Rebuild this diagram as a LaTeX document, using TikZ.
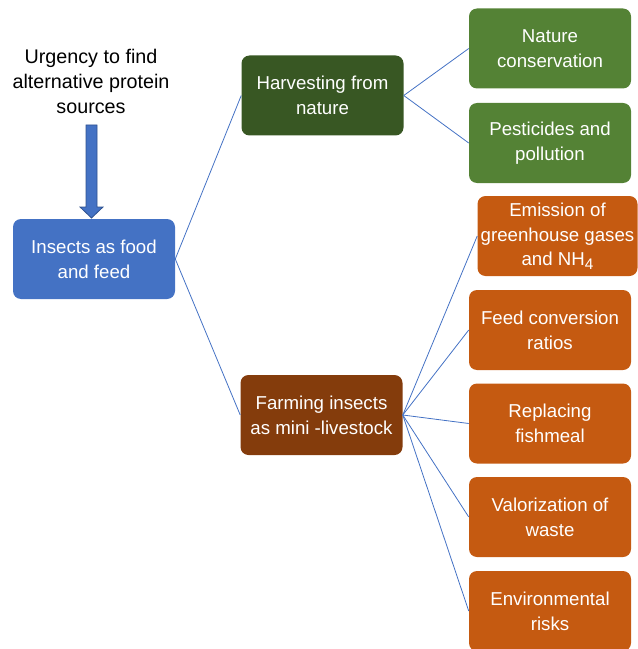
\documentclass[tikz,border=0pt]{standalone}
\usepackage{fontspec}
\setmainfont{Liberation Sans}
\usetikzlibrary{arrows.meta}
\definecolor{offblue}{HTML}{4472C4}
\definecolor{offbluedark}{HTML}{2F528F}
\definecolor{darkgreen}{HTML}{385723}
\definecolor{leafgreen}{HTML}{548235}
\definecolor{rust}{HTML}{843C0C}
\definecolor{burntorange}{HTML}{C55A11}

\begin{document}
\begin{tikzpicture}[x=0.75pt, y=-0.75pt,
    box/.style={rounded corners=6pt, minimum width=121.5pt, minimum height=60pt,
        inner sep=0pt, align=center, text=white, font=\fontsize{14}{18.5}\selectfont},
    link/.style={draw=offblue, line width=0.6pt}]
            \useasboundingbox (0,0) rectangle (638,649);
            \node[align=center, font=\fontsize{14.8}{18.75}\selectfont] (urgency) at (91,81)
                {Urgency to find\\alternative protein\\sources};
            \node[box, fill=offblue] (insects) at (94,259) {Insects as food\\and feed};
            \node[box, fill=darkgreen] (harvest) at (322.5,95.5) {Harvesting from\\nature};
            \node[box, fill=rust] (farming) at (321.5,415) {Farming insects\\as mini -livestock};
            \node[box, fill=leafgreen] (nature) at (550,48.5) {Nature\\conservation};
            \node[box, fill=leafgreen] (pesticides) at (550,143) {Pesticides and\\pollution};
            \node[box, fill=burntorange, minimum width=120pt] (emission) at (557.5,236)
                {Emission of\\greenhouse gases\\and NH\raisebox{-0.35ex}{\fontsize{11.5}{11.5}\selectfont 4}};
            \node[box, fill=burntorange] (feedconv) at (550,330) {Feed conversion\\ratios};
            \node[box, fill=burntorange] (fishmeal) at (550,423.5) {Replacing\\fishmeal};
            \node[box, fill=burntorange] (valor) at (550,517) {Valorization of\\waste};
            \node[box, fill=burntorange] (envrisk) at (550,611) {Environmental\\risks};
            \coordinate (tail) at (91.5,125);
            \coordinate (tip) at (91.5,218);
            \filldraw[fill=offblue, draw=offbluedark, line width=0.6pt]
                (tail) ++(-5.5,0) -- ++(0,82) -- ++(-6,0) -- (tip) -- ++(11.5,-11)
                -- ++(-6,0) -- ++(0,-82) -- cycle;
            \draw[link] (insects.east) -- (harvest.west);
            \draw[link] (insects.east) -- (farming.west);
            \draw[link] (harvest.east) -- (nature.west);
            \draw[link] (harvest.east) -- (pesticides.west);
            \foreach \leaf in {emission, feedconv, fishmeal, valor, envrisk}
                \draw[link] (farming.east) -- (\leaf.west);
        \end{tikzpicture}
\end{document}
